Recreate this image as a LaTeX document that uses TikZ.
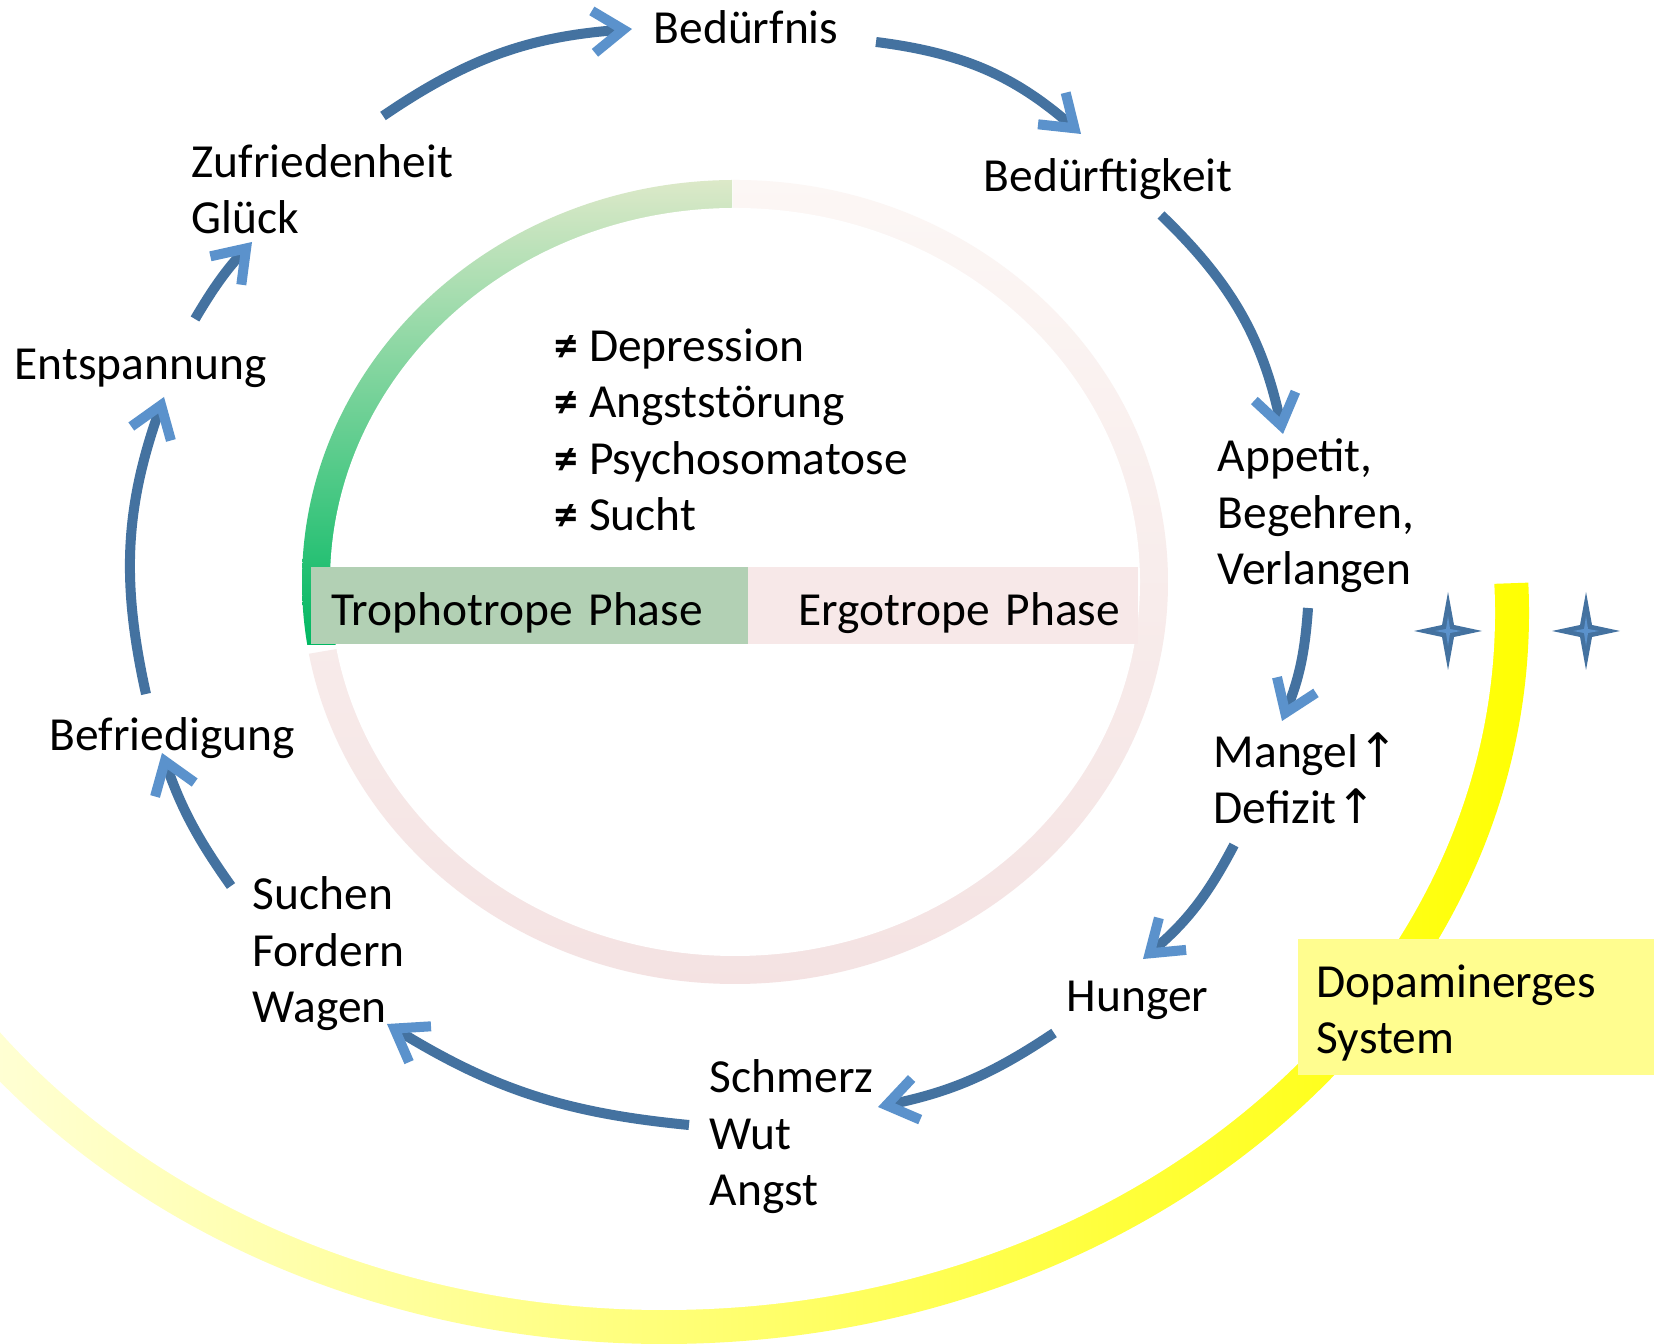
\documentclass[tikz,border=0pt]{standalone}
\usepackage{fontspec}
\setmainfont{Carlito}
\newfontfamily\symfont{DejaVu Sans}
\usepackage{tikz}
\usetikzlibrary{arrows.meta}

\definecolor{flowblue}{RGB}{68,114,160}
\definecolor{headblue}{RGB}{91,146,204}
\definecolor{greenlight}{RGB}{221,233,201}
\definecolor{greendark}{RGB}{0,184,98}
\definecolor{pinklight}{RGB}{252,247,245}
\definecolor{pinkdark}{RGB}{244,226,226}
\definecolor{yellowpale}{RGB}{255,255,238}
\definecolor{yellowmid}{RGB}{255,250,135}
\definecolor{trophobox}{RGB}{178,208,180}
\definecolor{ergobox}{RGB}{247,232,232}
\definecolor{dopabox}{RGB}{255,253,143}

\begin{document}
\begin{tikzpicture}[
    lbl/.style={inner sep=0pt, anchor=base west, align=left,
        font=\fontsize{13.5}{16.1}\selectfont},
    flow/.style={flowblue, line width=0.1cm,
        -{Straight Barb[color=headblue, length=0.3cm, width=0.42cm, line width=0.1cm]}},
    phase/.style={anchor=south west, minimum height=0.77cm, align=left,
        text height=0.39cm, text depth=0cm, font=\fontsize{13.5}{16.1}\selectfont}
]
    \useasboundingbox (0,0) rectangle (16.58,13.43);
    \clip (0,0) rectangle (16.58,13.43);

    % yellow arc (dopaminergic system)
    \begin{scope}
        \clip (6.64,7.30) -- (18.6,7.72) -- (18.6,-6) -- (-6,-6) -- (-6,7.30) -- cycle;
        \clip (6.64,7.30) ellipse (8.65 and 7.31);
        \shade[left color=yellowpale, middle color=yellowmid, right color=yellow] (-2,-1) rectangle (15.5,8);
    \end{scope}
    \fill[white] (6.64,7.30) ellipse (8.31 and 6.97);

    % inner ring
    \begin{scope}
        \clip (7.33,7.61) -- (7.33,13.8) -- (13.5,13.8) -- (13.5,1.5) -- (1.0,1.5) -- (1.125,6.56) -- cycle;
        \clip (7.35,7.61) ellipse (4.33 and 4.02);
        \shade[top color=pinklight, bottom color=pinkdark] (2.9,3.5) rectangle (11.8,11.7);
    \end{scope}
    \begin{scope}
        \clip (1.0,6.98) rectangle (7.32,13.8);
        \clip (7.35,7.61) ellipse (4.33 and 4.02);
        \shade[top color=greenlight, bottom color=greendark] (2.9,6.98) rectangle (7.32,11.65);
    \end{scope}
    \fill[white] (7.35,7.61) ellipse (4.05 and 3.74);

    \node[phase, fill=trophobox, minimum width=4.37cm, inner xsep=0.21cm, text width=3.95cm] (tro) at (3.10,6.98) {Trophotrope Phase};
    \node[phase, fill=ergobox, minimum width=3.90cm, inner xsep=0.15cm, text width=3.60cm] (erg) at (7.47,6.98) {\hspace*{0.36cm}\mbox{Ergotrope Phase}};

    \node[phase, fill=dopabox, minimum width=3.56cm, minimum height=1.36cm, inner xsep=0.19cm, text width=3.18cm, text height=, text depth=] (dop) at (12.97,2.67) {\rule{0pt}{0.44cm}Dopaminerges\\System};

    % cycle labels
    \node[lbl] (bfn) at (6.53,12.99) {Bedürfnis};
    \node[lbl] (bdk) at (9.83,11.51) {Bedürftigkeit};
    \node[lbl] (app) at (12.17,7.58) {Appetit,\\Begehren,\\Verlangen};
    \node[lbl] (mgl) at (12.13,5.19) {Mangel{\symfont ↑}\\Defizit{\symfont ↑}};
    \node[lbl] (hgr) at (10.66,3.31) {Hunger};
    \node[lbl] (smz) at (7.09,1.37) {Schmerz\\Wut\\Angst};
    \node[lbl] (suc) at (2.52,3.20) {Suchen\\Fordern\\Wagen};
    \node[lbl] (bef) at (0.49,5.92) {Befriedigung};
    \node[lbl] (ent) at (0.14,9.63) {Entspannung};
    \node[lbl] (zuf) at (1.91,11.09) {Zufriedenheit\\Glück};

    \node[lbl] (neq) at (5.54,8.12) {{\bfseries ≠} Depression\\{\bfseries ≠} Angststörung\\{\bfseries ≠} Psychosomatose\\{\bfseries ≠} Sucht};

    % arrows
    \draw[flow] ([shift={(1.92,1.18)}]zuf.base west) to[bend left=15] ([shift={(-0.21,0.15)}]bfn.base west);
    \draw[flow] ([shift={(2.23,0.02)}]bfn.base west) to[bend left=17] ([shift={(0.98,0.58)}]bdk.base west);
    \draw[flow] ([shift={(1.78,-0.23)}]bdk.base west) to[bend left=17] ([shift={(0.66,1.51)}]app.base west);
    \draw[flow] ([shift={(0.91,-0.23)}]app.base west) to[bend left=9] ([shift={(0.69,1.03)}]mgl.base west);
    \draw[flow] ([shift={(0.21,-0.21)}]mgl.base west) to[bend left=11] ([shift={(0.77,0.53)}]hgr.base west);
    \draw[flow] ([shift={(-0.12,-0.21)}]hgr.base west) to[bend left=11] ([shift={(1.69,0.99)}]smz.base west);
    \draw[flow] ([shift={(-0.20,0.81)}]smz.base west) to[bend left=13] ([shift={(1.35,-0.01)}]suc.base west);
    \draw[flow] ([shift={(-0.21,1.37)}]suc.base west) to[bend left=8] ([shift={(1.13,-0.02)}]bef.base west);
    \draw[flow] ([shift={(0.97,0.57)}]bef.base west) to[bend left=16] ([shift={(1.50,-0.17)}]ent.base west);
    \draw[flow] ([shift={(1.81,0.61)}]ent.base west) to[bend left=6] ([shift={(0.61,-0.08)}]zuf.base west);

    % stars
    \foreach \sx in {14.48,15.86} {
        \fill[flowblue] (\sx,7.51) -- (\sx+0.06,7.18) -- (\sx+0.34,7.12) -- (\sx+0.06,7.06)
            -- (\sx,6.73) -- (\sx-0.06,7.06) -- (\sx-0.34,7.12) -- (\sx-0.06,7.18) -- cycle;
        \fill[headblue] (\sx,7.27) -- (\sx+0.02,7.14) -- (\sx+0.13,7.12) -- (\sx+0.02,7.10)
            -- (\sx,6.97) -- (\sx-0.02,7.10) -- (\sx-0.13,7.12) -- (\sx-0.02,7.14) -- cycle;
    }
\end{tikzpicture}
\end{document}
